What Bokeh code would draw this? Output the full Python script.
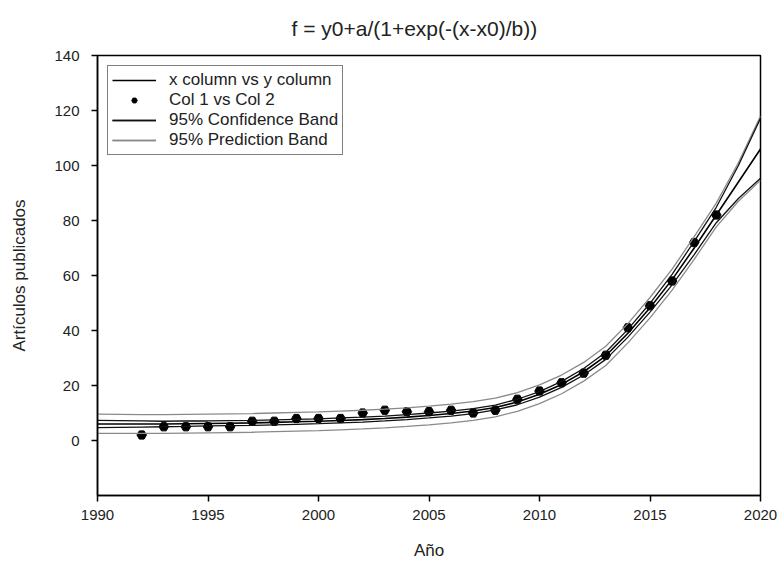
from bokeh.plotting import figure
from bokeh.models import FixedTicker, Legend, LegendItem, Range1d
from bokeh.embed import file_html
from bokeh.resources import INLINE

# Observed data (Col 1 vs Col 2)
years_obs = [1992, 1993, 1994, 1995, 1996, 1997, 1998, 1999, 2000, 2001, 2002, 2003, 2004,
             2005, 2006, 2007, 2008, 2009, 2010, 2011, 2012, 2013, 2014, 2015, 2016, 2017, 2018]
articles = [2, 5, 5, 5, 5, 7, 7, 8, 8, 8, 10, 11, 10.5,
            10.5, 11, 10, 11, 15, 18, 21, 24.5, 31, 41, 49, 58, 72, 82]

# Fitted curve and bands per year
years_fit = [1990, 1991, 1992, 1993, 1994, 1995, 1996, 1997, 1998, 1999, 2000, 2001, 2002, 2003,
             2004, 2005, 2006, 2007, 2008, 2009, 2010, 2011, 2012, 2013, 2014, 2015, 2016, 2017,
             2018, 2019, 2020]
fit = [6.0, 6.0, 6.0, 6.0, 6.1, 6.2, 6.3, 6.4, 6.6, 6.8, 7.0, 7.3, 7.6, 8.0,
       8.5, 9.1, 9.8, 10.7, 12.0, 14.0, 16.8, 20.4, 25.0, 30.8, 39.0, 48.3, 58.5, 70.0,
       82.0, 94.0, 106.0]
conf_upper = [7.3, 7.2, 7.1, 7.0, 7.1, 7.1, 7.2, 7.3, 7.5, 7.7, 7.9, 8.2, 8.5, 8.9,
              9.4, 10.0, 10.7, 11.6, 12.9, 15.0, 17.8, 21.5, 26.2, 32.1, 40.4, 49.9, 60.4, 72.4,
              84.8, 100.0, 117.2]
conf_lower = [4.7, 4.8, 4.9, 5.0, 5.1, 5.3, 5.4, 5.5, 5.7, 5.9, 6.1, 6.4, 6.7, 7.1,
              7.6, 8.2, 8.9, 9.8, 11.1, 13.0, 15.8, 19.3, 23.8, 29.5, 37.6, 46.7, 56.6, 67.6,
              79.2, 88.0, 95.4]
pred_upper = [9.6, 9.5, 9.4, 9.4, 9.5, 9.6, 9.7, 9.8, 10.0, 10.2, 10.4, 10.7, 11.0, 11.4,
              11.9, 12.5, 13.2, 14.1, 15.4, 17.4, 20.2, 23.8, 28.4, 34.3, 42.5, 52.0, 62.3, 74.1,
              86.3, 101.0, 118.0]
pred_lower = [2.6, 2.6, 2.6, 2.6, 2.7, 2.8, 2.9, 3.0, 3.2, 3.4, 3.6, 3.9, 4.2, 4.6,
              5.1, 5.7, 6.4, 7.3, 8.6, 10.6, 13.4, 17.0, 21.6, 27.3, 35.5, 44.6, 54.7, 65.9,
              77.7, 87.0, 94.6]

x_ticks = [1990, 1995, 2000, 2005, 2010, 2015, 2020]
y_ticks = [0, 20, 40, 60, 80, 100, 120, 140]
title_text = "f = y0+a/(1+exp(-(x-x0)/b))"

FONT = "Liberation Sans"

p = figure(width=780, height=562, output_backend="svg", toolbar_location=None,
           x_range=Range1d(1990, 2020), y_range=Range1d(-20, 140),
           min_border_left=97, min_border_right=20, min_border_top=55, min_border_bottom=65,
           title=title_text)

p.title.align = "left"
p.title.offset = 194
p.title.vertical_align = "top"
p.title.text_font = FONT
p.title.text_font_size = "21px"
p.title.text_font_style = "normal"
p.title.text_color = "#222222"
p.title.standoff = 28

p.xgrid.visible = False
p.ygrid.visible = False
p.outline_line_color = "black"
p.outline_line_width = 1.5

for ax in (p.xaxis[0], p.yaxis[0]):
    ax.axis_line_color = "black"
    ax.axis_line_width = 1.5
    ax.major_tick_line_color = "black"
    ax.major_tick_line_width = 1.5
    ax.major_tick_out = 6
    ax.major_tick_in = 0
    ax.minor_tick_line_color = None
    ax.major_label_text_font = FONT
    ax.major_label_text_font_size = "15px"
    ax.major_label_text_color = "#222222"
    ax.axis_label_text_font = FONT
    ax.axis_label_text_font_size = "17px"
    ax.axis_label_text_font_style = "normal"
    ax.axis_label_text_color = "#222222"

p.xaxis.ticker = FixedTicker(ticks=x_ticks)
p.yaxis.ticker = FixedTicker(ticks=y_ticks)
p.xaxis.axis_label = "Año"
p.yaxis.axis_label = "Artículos publicados"
p.xaxis.major_label_standoff = 8
p.xaxis.axis_label_standoff = 18
p.yaxis.major_label_standoff = 12
p.yaxis.axis_label_standoff = 22

pts = p.scatter(years_obs, articles, marker="hex", size=9.5, fill_color="black", line_color="black")
pu = p.line(years_fit, pred_upper, line_color="#8a8a8a", line_width=1.3)
pl = p.line(years_fit, pred_lower, line_color="#8a8a8a", line_width=1.3)
cu = p.line(years_fit, conf_upper, line_color="#111111", line_width=1.3)
cl = p.line(years_fit, conf_lower, line_color="#111111", line_width=1.3)
fl = p.line(years_fit, fit, line_color="black", line_width=1.6)

legend = Legend(items=[
    LegendItem(label="x column vs y column", renderers=[fl]),
    LegendItem(label="Col 1 vs Col 2", renderers=[pts]),
    LegendItem(label="95% Confidence Band", renderers=[cu, cl]),
    LegendItem(label="95% Prediction Band", renderers=[pu, pl]),
], location="top_left")
legend.margin = 10
legend.padding = 4
legend.spacing = 0
legend.border_line_color = "black"
legend.border_line_width = 1.5
legend.label_text_font = FONT
legend.label_text_font_size = "17px"
legend.label_text_color = "#222222"
legend.glyph_width = 44
legend.glyph_height = 14
legend.label_height = 14
legend.label_standoff = 13
legend.background_fill_alpha = 1.0
p.add_layout(legend)

open("out.html", "w").write(file_html(p, INLINE))
